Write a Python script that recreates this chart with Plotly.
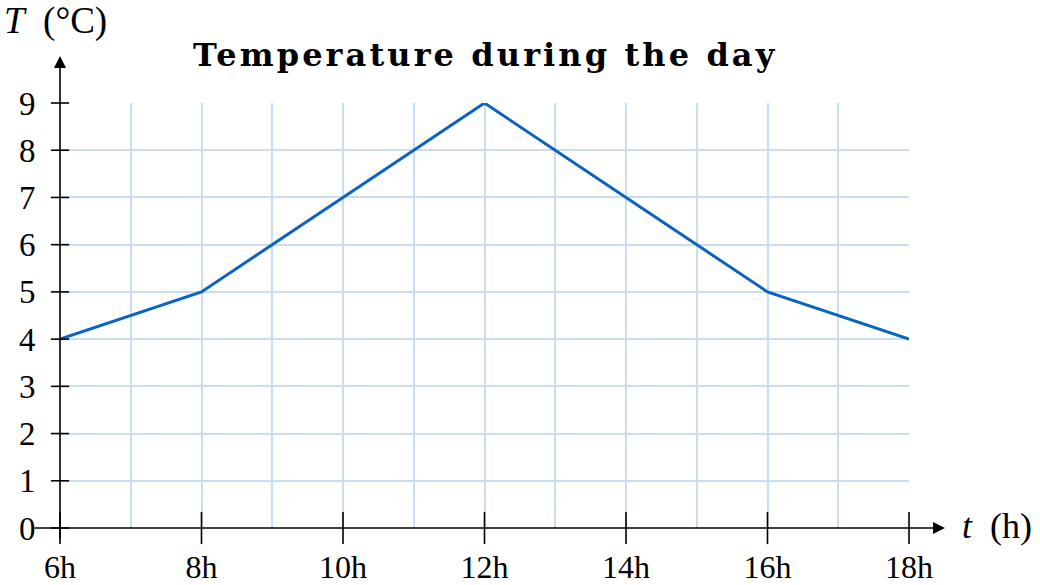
import plotly.graph_objects as go

hours = [6, 8, 10, 12, 14, 16, 18]
temps = [4, 5, 7, 9, 7, 5, 4]
x_ticks = [6, 8, 10, 12, 14, 16, 18]
x_ticktext = ["6h", "8h", "10h", "12h", "14h", "16h", "18h"]
y_ticks = [0, 1, 2, 3, 4, 5, 6, 7, 8, 9]
title = "Temperature during the day"
x_label = "<i>t</i>  (h)"
y_label = "<i>T</i>  (°C)"

LINE = "#0864c0"
GRID = "#c9ddf2"
FONT = "Liberation Serif"

fig = go.Figure()

fig.add_trace(go.Scatter(x=hours, y=temps, mode="lines",
                         line=dict(color=LINE, width=3), hoverinfo="skip"))
# tick marks crossing the axes
fig.add_trace(go.Scatter(x=x_ticks, y=[0] * len(x_ticks), mode="markers",
                         marker=dict(symbol="line-ns", size=23, line=dict(color="black", width=1.6)),
                         cliponaxis=False, hoverinfo="skip"))
fig.add_trace(go.Scatter(x=[6] * len(y_ticks), y=y_ticks, mode="markers",
                         marker=dict(symbol="line-ew", size=13, line=dict(color="black", width=1.6)),
                         cliponaxis=False, hoverinfo="skip"))

fig.update_layout(
    width=1040, height=585,
    margin=dict(l=60, r=131, t=103, b=57),
    paper_bgcolor="white", plot_bgcolor="white",
    showlegend=False,
    font=dict(family=FONT, size=32, color="black"),
    xaxis=dict(range=[6, 18], tickmode="array", tickvals=x_ticks, ticktext=x_ticktext,
               showgrid=True, gridcolor=GRID, gridwidth=1.5,
               minor=dict(dtick=1, tick0=6, showgrid=True, gridcolor=GRID, gridwidth=1.5),
               ticks="outside", ticklen=11, tickcolor="rgba(0,0,0,0)",
               zeroline=False, showline=False, automargin=False,
               tickfont=dict(family=FONT, size=32)),
    yaxis=dict(range=[0, 9], tickmode="array", tickvals=y_ticks,
               showgrid=True, gridcolor=GRID, gridwidth=1.5,
               ticks="outside", ticklen=17, tickcolor="rgba(0,0,0,0)",
               zeroline=False, showline=False, automargin=False,
               tickfont=dict(family=FONT, size=33)),
)

# axis lines with arrows (paper-anchored so they may extend past the plot area)
fig.add_annotation(x=1.0424, y=0, xref="paper", yref="paper", axref="pixel", ayref="pixel",
                   ax=-912, ay=0, text="", showarrow=True, arrowhead=2, arrowsize=1.5,
                   arrowwidth=1.6, arrowcolor="black", standoff=0, startstandoff=0)
fig.add_annotation(x=0, y=1.1106, xref="paper", yref="paper", axref="pixel", ayref="pixel",
                   ax=0, ay=484, text="", showarrow=True, arrowhead=2, arrowsize=1.5,
                   arrowwidth=1.6, arrowcolor="black", standoff=0, startstandoff=0)

fig.add_annotation(text=y_label, xref="paper", yref="paper", x=-0.068, y=1.192,
                   xanchor="left", yanchor="middle", showarrow=False,
                   font=dict(family=FONT, size=37))
fig.add_annotation(text=x_label, xref="paper", yref="paper", x=1.060, y=0.005,
                   xanchor="left", yanchor="middle", showarrow=False,
                   font=dict(family=FONT, size=36))
fig.add_annotation(text='<b><span style="letter-spacing:3.1px">' + title + "</span></b>",
                   xref="paper", yref="paper", x=0.5, y=1.113,
                   xanchor="center", yanchor="middle", showarrow=False,
                   font=dict(family="DejaVu Serif", size=32))

fig.write_html("out.html", config={"displayModeBar": False},
               post_script="document.body.style.margin='0';document.body.style.overflow='hidden';")
